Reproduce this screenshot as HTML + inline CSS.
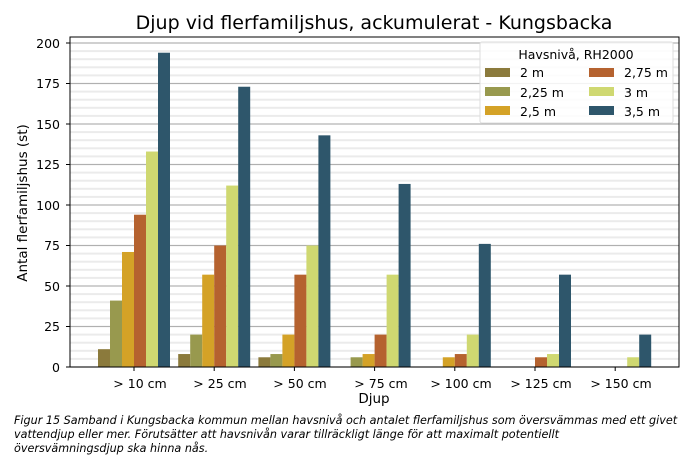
<!DOCTYPE html>
<html><head><meta charset="utf-8"><style>
body{margin:0;background:#fff;width:700px;height:459px;overflow:hidden}
svg{font-family:"DejaVu Sans","Liberation Sans",sans-serif}
</style></head><body>
<svg id="s" width="700" height="459" xmlns="http://www.w3.org/2000/svg">
<g id="grid"></g>
<g id="bars"></g>
<rect x="70" y="37" width="609" height="330" fill="none" stroke="#000" stroke-width="1"/>
<text x="374" y="29" font-size="19" text-anchor="middle">Djup vid flerfamiljshus, ackumulerat - Kungsbacka</text>
<g font-size="12.5" text-anchor="end">
<text x="60" y="372">0</text><text x="60" y="331">25</text><text x="60" y="291">50</text><text x="60" y="250">75</text>
<text x="60" y="210">100</text><text x="60" y="169">125</text><text x="60" y="129">150</text><text x="60" y="88">175</text><text x="60" y="48">200</text>
</g>
<g font-size="12.5" text-anchor="middle">
<text x="140" y="388">&gt; 10 cm</text><text x="220" y="388">&gt; 25 cm</text><text x="300" y="388">&gt; 50 cm</text>
<text x="381" y="388">&gt; 75 cm</text><text x="461" y="388">&gt; 100 cm</text><text x="541" y="388">&gt; 125 cm</text><text x="621" y="388">&gt; 150 cm</text>
</g>
<text x="374" y="403" font-size="13.5" text-anchor="middle">Djup</text>
<text transform="translate(27,203) rotate(-90)" font-size="13.5" text-anchor="middle">Antal flerfamiljshus (st)</text>
<rect x="480" y="42" width="193" height="81" fill="#fff" fill-opacity="0.85" stroke="#ddd" rx="2"/>
<g font-size="12.5">
<text x="576" y="59" text-anchor="middle">Havsnivå, RH2000</text>
<rect x="485" y="68" width="25" height="9" fill="#8b7a3c"/><text x="520" y="77">2 m</text>
<rect x="485" y="87" width="25" height="9" fill="#98994e"/><text x="520" y="97">2,25 m</text>
<rect x="485" y="106" width="25" height="9" fill="#d4a227"/><text x="520" y="116">2,5 m</text>
<rect x="589" y="68" width="25" height="9" fill="#b5622f"/><text x="624" y="77">2,75 m</text>
<rect x="589" y="87" width="25" height="9" fill="#cfd871"/><text x="624" y="97">3 m</text>
<rect x="589" y="106" width="25" height="9" fill="#2e566b"/><text x="624" y="116">3,5 m</text>
</g>
<g font-size="11.2" font-style="italic">
<text x="14" y="424">Figur 15 Samband i Kungsbacka kommun mellan havsnivå och antalet flerfamiljshus som översvämmas med ett givet</text>
<text x="14" y="438">vattendjup eller mer. Förutsätter att havsnivån varar tillräckligt länge för att maximalt potentiellt</text>
<text x="14" y="452">översvämningsdjup ska hinna nås.</text>
</g>
</svg>
<script>
var ns="http://www.w3.org/2000/svg",g=document.getElementById("grid"),b=document.getElementById("bars");
function r(p,x,y,w,h,f){var e=document.createElementNS(ns,"rect");e.setAttribute("x",x);e.setAttribute("y",y);e.setAttribute("width",w);e.setAttribute("height",h);e.setAttribute("fill",f);p.appendChild(e);}
for(var v=0;v<=200;v+=5){var y=367-v*1.62;if(v%25==0){r(g,70,y-0.6,609,1.2,"#b0b0b0");r(g,66,y-0.5,4,1,"#000");}else{r(g,70,y-1,609,2,"#ebebeb");}}
var c=["#8b7a3c","#98994e","#d4a227","#b5622f","#cfd871","#2e566b"];
var d=[[11,41,71,94,133,194],[8,20,57,75,112,173],[6,8,20,57,75,143],[0,6,8,20,57,113],[0,0,6,8,20,76],[0,0,0,6,8,57],[0,0,0,0,6,20]];
for(var i=0;i<7;i++)for(var j=0;j<6;j++){var v=d[i][j];if(!v)continue;r(b,98+i*80.2+j*12,367-v*1.62,12,v*1.62,c[j]);}
for(var i=0;i<7;i++)r(b,134+i*80.2-0.5,367,1,4,"#000");
</script>
</body></html>
